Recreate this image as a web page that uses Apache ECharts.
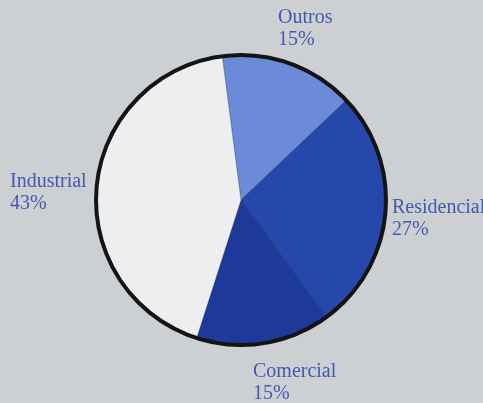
<!DOCTYPE html>
<html><head><meta charset="utf-8">
<script src="https://cdn.jsdelivr.net/npm/echarts@6/dist/echarts.min.js"></script>
<style>html,body{margin:0;padding:0;background:#cdd0d2;}#c{width:483px;height:403px;}</style>
</head><body><div id="c"></div>
<script>
var categories = ['Outros', 'Residencial', 'Comercial', 'Industrial'];
var values = [15, 27, 15, 43];
var colors = ['#6b8bd8', '#2648aa', '#1d3a98', '#eceeef'];
var labelPos = {
  'Outros': [278, 7],
  'Residencial': [392, 197],
  'Comercial': [253, 361],
  'Industrial': [10, 171]
};
var chart = echarts.init(document.getElementById('c'));
chart.setOption({
  backgroundColor: '#cdd0d2',
  animation: false,
  series: [{
    type: 'pie',
    center: [241, 200],
    radius: [0, 145],
    startAngle: 97.4,
    clockwise: true,
    silent: true,
    data: categories.map(function (c, i) { return { name: c, value: values[i], itemStyle: { color: colors[i] } }; }),
    itemStyle: { borderColor: 'rgba(20,30,70,0.5)', borderWidth: 0.6 },
    label: {
      show: true,
      position: 'outside',
      formatter: '{b}\n{d}%',
      fontFamily: 'Liberation Serif',
      fontSize: 20,
      lineHeight: 22,
      color: '#4459b0',
      align: 'left',
      overflow: 'none',
      width: 200
    },
    labelLine: { show: false },
    labelLayout: function (p) {
      var pos = labelPos[categories[p.dataIndex]];
      return { x: pos[0], y: pos[1], align: 'left', verticalAlign: 'top' };
    }
  }, {
    type: 'pie',
    center: [241, 200],
    radius: [0, 145],
    silent: true,
    z: 5,
    data: [{ value: 1, itemStyle: { color: 'rgba(0,0,0,0)' } }],
    itemStyle: { borderColor: '#141414', borderWidth: 4 },
    label: { show: false },
    labelLine: { show: false }
  }]
});
</script></body></html>
